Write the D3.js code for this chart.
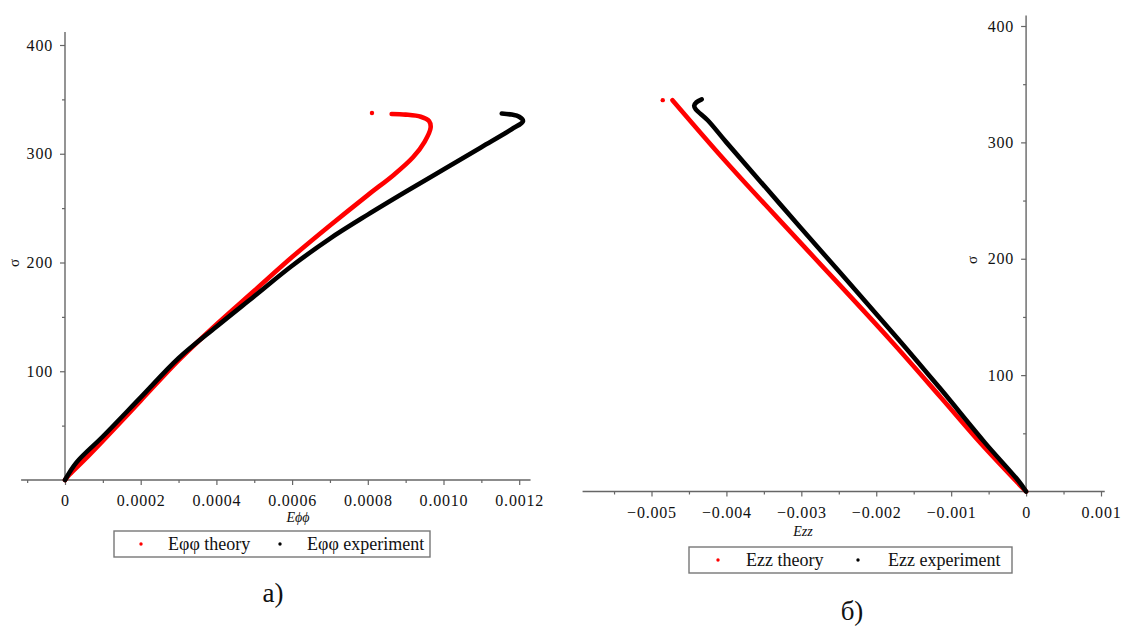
<!DOCTYPE html>
<html>
<head>
<meta charset="utf-8">
<script src="https://cdn.jsdelivr.net/npm/d3@7"></script>
<style>
  html, body { margin: 0; padding: 0; background: #fff; }
  svg { display: block; }
  text { font-family: "Liberation Serif", "Times New Roman", serif; fill: #111; }
</style>
</head>
<body>
<svg id="chart" width="1121" height="628"></svg>
<script>
// ---------- DATA ----------
// Left panel: σ vs Eφφ
const leftTheoryE = [0, 0.000012, 0.00005, 0.0001, 0.0002, 0.0003, 0.0004, 0.0005, 0.0006, 0.0007, 0.0008, 0.00087, 0.00092, 0.00095, 0.000966, 0.000962, 0.00094, 0.0009, 0.000863];
const leftTheoryS = [0, 5, 18, 36, 73, 110, 143, 174, 205, 234, 262, 281, 297, 311, 324, 330, 334, 336, 336.6];
const leftTheoryDotE = [0.000811];
const leftTheoryDotS = [337.5];
const leftExpE = [0, 0.00003, 0.0001, 0.0002, 0.0003, 0.0004, 0.0005, 0.0006, 0.0007, 0.0008, 0.0009, 0.001, 0.0011, 0.00118, 0.00121, 0.0012, 0.00118, 0.001154];
const leftExpS = [0, 16, 40, 76, 112, 141, 169, 197, 222, 244, 265, 285.5, 306, 322.5, 330, 334, 336, 337];

// Right panel: σ vs Ezz
const rightTheoryE = [0, -0.00012, -0.0006, -0.00114, -0.00181, -0.003, -0.004, -0.00472];
const rightTheoryS = [0, 8, 41, 81, 130, 213, 283, 336.3];
const rightTheoryDotE = [-0.00485];
const rightTheoryDotS = [336.3];
const rightExpE = [0, -0.0001, -0.00055, -0.00114, -0.00172, -0.003, -0.004, -0.00425, -0.00441, -0.00443, -0.00440, -0.00433];
const rightExpS = [0, 9, 42, 88, 132, 226, 300, 319, 328.5, 331.5, 334.5, 337];

// Ticks
const leftXTicks = [0, 0.0002, 0.0004, 0.0006, 0.0008, 0.0010, 0.0012];
const leftXTickLabels = ["0", "0.0002", "0.0004", "0.0006", "0.0008", "0.0010", "0.0012"];
const leftXMinor = [-0.0001, 0.0001, 0.0003, 0.0005, 0.0007, 0.0009, 0.0011];
const rightXTicks = [-0.005, -0.004, -0.003, -0.002, -0.001, 0, 0.001];
const rightXTickLabels = ["\u22120.005", "\u22120.004", "\u22120.003", "\u22120.002", "\u22120.001", "0", "0.001"];
const rightXMinor = [-0.0055, -0.0045, -0.0035, -0.0025, -0.0015, -0.0005, 0.0005];
const yTicks = [100, 200, 300, 400];
const yMinor = [50, 150, 250, 350];

const leftLegend = ["E\u03c6\u03c6 theory", "E\u03c6\u03c6 experiment"];
const rightLegend = ["Ezz theory", "Ezz experiment"];
const seriesColors = ["#ff0000", "#000000"];

// ---------- DRAW ----------
const svg = d3.select("#chart");
svg.append("rect").attr("width", 1121).attr("height", 628).attr("fill", "#fff");

const axisColor = "#666";

function zip(a, b) { return a.map((v, i) => [v, b[i]]); }

function panel(cfg) {
  const g = svg.append("g");
  const x = cfg.x, y = cfg.y;
  // axes lines
  g.append("line").attr("x1", x(cfg.xExt[0])).attr("x2", x(cfg.xExt[1]))
    .attr("y1", y(0)).attr("y2", y(0)).attr("stroke", axisColor).attr("stroke-width", 1.4);
  g.append("line").attr("x1", x(0)).attr("x2", x(0))
    .attr("y1", y(0)).attr("y2", y(cfg.yTop)).attr("stroke", axisColor).attr("stroke-width", 1.4);

  // x axis ticks via d3 axis
  const xa = g.append("g").attr("transform", `translate(0,${y(0)})`)
    .call(d3.axisBottom(x).tickValues(cfg.xTicks).tickSize(5).tickSizeOuter(0)
      .tickFormat((d, i) => cfg.xLabels[i]));
  xa.attr("font-family", "Liberation Serif").attr("font-size", 16);
  xa.select(".domain").remove();
  xa.selectAll(".tick line").attr("stroke", axisColor).attr("stroke-width", 1.2);
  xa.selectAll(".tick text").attr("letter-spacing", "0.8px").attr("fill", "#111").attr("dy", "1.15em");
  const xm = g.append("g").attr("transform", `translate(0,${y(0)})`)
    .call(d3.axisBottom(x).tickValues(cfg.xMinor).tickSize(3).tickFormat(""));
  xm.select(".domain").remove();
  xm.selectAll(".tick line").attr("stroke", axisColor).attr("stroke-width", 1.2);

  // y axis ticks
  const ya = g.append("g").attr("transform", `translate(${x(0)},0)`)
    .call(d3.axisLeft(y).tickValues(yTicks).tickSize(5).tickPadding(7).tickSizeOuter(0));
  ya.attr("font-family", "Liberation Serif").attr("font-size", 16);
  ya.select(".domain").remove();
  ya.selectAll(".tick line").attr("stroke", axisColor).attr("stroke-width", 1.2);
  ya.selectAll(".tick text").attr("letter-spacing", "0.8px").attr("fill", "#111");
  const ym = g.append("g").attr("transform", `translate(${x(0)},0)`)
    .call(d3.axisLeft(y).tickValues(yMinor).tickSize(3).tickFormat(""));
  ym.select(".domain").remove();
  ym.selectAll(".tick line").attr("stroke", axisColor).attr("stroke-width", 1.2);

  // axis titles
  g.append("text").attr("x", cfg.xTitlePos[0]).attr("y", cfg.xTitlePos[1])
    .attr("text-anchor", "middle").attr("font-style", "italic").attr("font-size", 14)
    .attr("fill", "#444").text(cfg.xTitle);
  g.append("text").attr("transform", `translate(${cfg.sigmaPos[0]},${cfg.sigmaPos[1]}) rotate(-90)`)
    .attr("text-anchor", "middle").attr("font-size", 15).attr("fill", "#333").text("\u03c3");

  // curves
  const line = d3.line().x(d => x(d[0])).y(d => y(d[1])).curve(d3.curveCatmullRom.alpha(0.5));
  cfg.series.forEach((s, i) => {
    g.append("path").attr("d", line(zip(s[0], s[1]))).attr("fill", "none")
      .attr("stroke", seriesColors[i]).attr("stroke-width", 4.6)
      .attr("stroke-linecap", "round").attr("stroke-linejoin", "round");
  });
  g.selectAll(".isodot").data(zip(cfg.dot[0], cfg.dot[1])).enter().append("circle")
    .attr("cx", d => x(d[0])).attr("cy", d => y(d[1])).attr("r", 2.2).attr("fill", seriesColors[0]);

  // legend
  const L = cfg.legend;
  g.append("rect").attr("x", L.x).attr("y", L.y).attr("width", L.w).attr("height", L.h)
    .attr("fill", "#fff").attr("stroke", "#777").attr("stroke-width", 1.4);
  L.items.forEach((t, i) => {
    g.append("circle").attr("cx", L.dotX[i]).attr("cy", L.y + L.h / 2).attr("r", 1.7)
      .attr("fill", seriesColors[i]);
    g.append("text").attr("x", L.textX[i]).attr("y", L.y + L.h / 2 + 6)
      .attr("font-size", 18).text(t);
  });

  // panel caption
  g.append("text").attr("x", cfg.caption[0]).attr("y", cfg.caption[1])
    .attr("text-anchor", "middle").attr("font-size", 27).text(cfg.caption[2]);
}

const xL = d3.scaleLinear().domain([0, 0.0012]).range([65, 519.2]);
const yL = d3.scaleLinear().domain([0, 400]).range([480, 45]);
panel({
  x: xL, y: yL, xExt: [-0.000116, 0.00123], yTop: 412,
  xTicks: leftXTicks, xLabels: leftXTickLabels, xMinor: leftXMinor,
  xTitle: "E\u03d5\u03d5", xTitlePos: [298, 522], sigmaPos: [19, 263],
  series: [[leftTheoryE, leftTheoryS], [leftExpE, leftExpS]],
  dot: [leftTheoryDotE, leftTheoryDotS],
  legend: { x: 114, y: 531, w: 316, h: 26, items: leftLegend, dotX: [141, 280], textX: [168, 307] },
  caption: [273, 602, "а)"]
});

const xR = d3.scaleLinear().domain([-0.005, 0.001]).range([651.5, 1101]);
const yR = d3.scaleLinear().domain([0, 400]).range([491.5, 26]);
panel({
  x: xR, y: yR, xExt: [-0.00592, 0.00105], yTop: 409,
  xTicks: rightXTicks, xLabels: rightXTickLabels, xMinor: rightXMinor,
  xTitle: "Ezz", xTitlePos: [803, 536], sigmaPos: [977, 260],
  series: [[rightTheoryE, rightTheoryS], [rightExpE, rightExpS]],
  dot: [rightTheoryDotE, rightTheoryDotS],
  legend: { x: 689, y: 547, w: 323, h: 26, items: rightLegend, dotX: [718, 858], textX: [746, 888] },
  caption: [852, 620, "б)"]
});
</script>
</body>
</html>
